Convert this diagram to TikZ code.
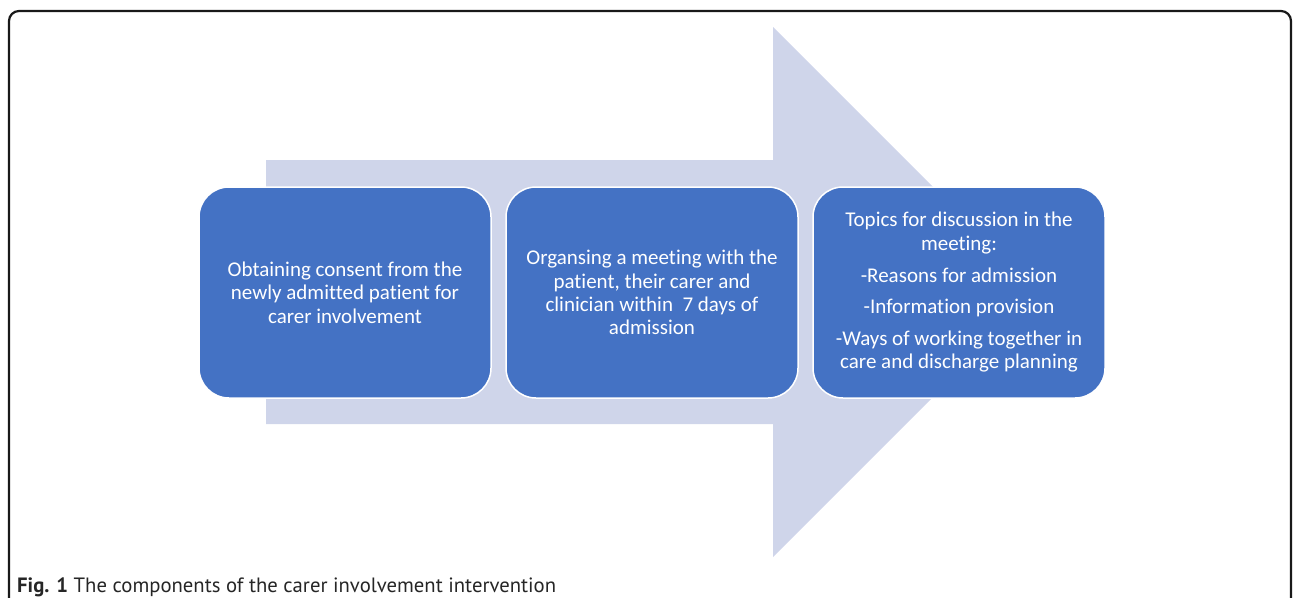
\documentclass[tikz,border=0pt]{standalone}
\usepackage{fontspec}
\setmainfont{Carlito}[Ligatures=NoCommon]
\newfontfamily\capfont{PT Sans}
\definecolor{boxblue}{HTML}{4472C4}
\definecolor{arrowfill}{HTML}{CFD5EA}
\tikzset{
  stepbox/.style={rectangle, rounded corners=30pt, fill=boxblue, draw=white, line width=1.5pt,
    minimum width=292pt, minimum height=211pt, align=center, text=white,
    font=\fontsize{21}{23.3}\selectfont, inner sep=0pt},
  framec/.style={line width=2.2pt, draw=black!90, rounded corners=10pt},
  captext/.style={anchor=base west, inner sep=0pt, font=\capfont\fontsize{20.7}{24}\selectfont, text=black!85}
}
\begin{document}
\begin{tikzpicture}[x=1pt,y=-1pt]
\useasboundingbox (0,0) rectangle (1293,597);
\clip (0,0) rectangle (1293,597);
\draw[framec] (9,650) -- (9,11) -- (1291,11) -- (1291,650);
\fill[arrowfill] (266,160) -- (773,160) -- (773,27) -- (1038,292) -- (773,557) -- (773,424) -- (266,424) -- cycle;
\node[stepbox] (b1) at (345,292.5) {Obtaining consent from the\\newly admitted patient for\\carer involvement};
\node[stepbox] (b2) at (652,292.5) {Organsing a meeting with the\\patient, their carer and\\clinician within\ \ 7 days of\\admission};
\node[stepbox] (b3) at (959,292.5) {Topics for discussion in the\\meeting:\\[8.5pt]-Reasons for admission\\[8.5pt]-Information provision\\[8.5pt]-Ways of working together in\\care and discharge planning};
\node[captext] (cap) at (17,592) {\textbf{Fig. 1} The components of the carer involvement intervention};
\end{tikzpicture}
\end{document}
